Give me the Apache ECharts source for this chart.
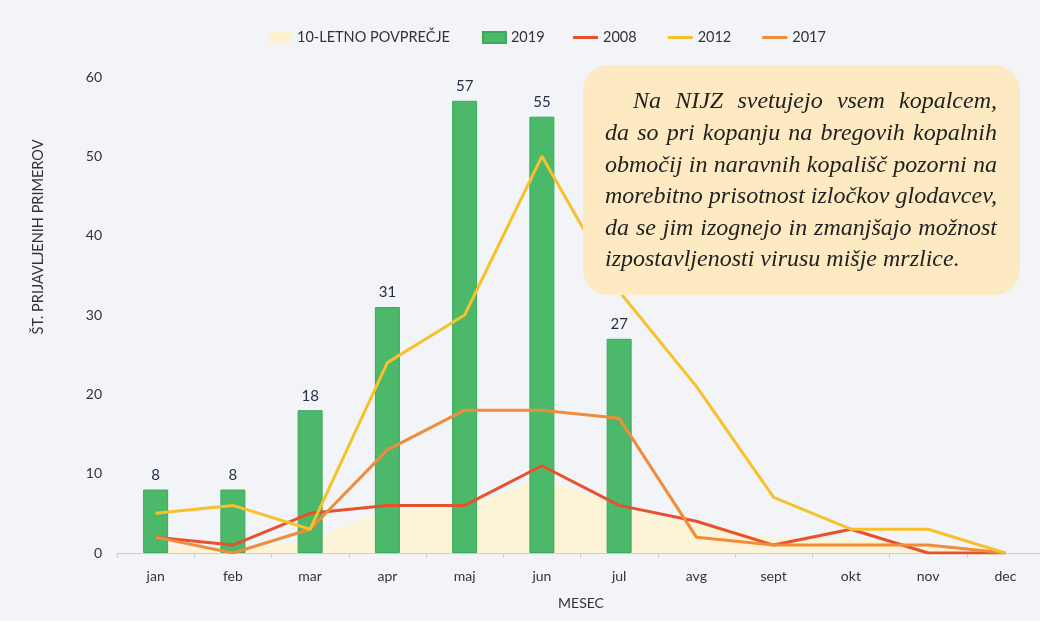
<!DOCTYPE html>
<html><head><meta charset="utf-8">
<script src="https://cdn.jsdelivr.net/npm/echarts@6/dist/echarts.min.js"></script>
<style>html,body{margin:0;padding:0;background:#f2f4f7;}#c{width:1040px;height:621px;}</style>
</head><body><div id="c"></div>
<script>
const months = ['jan','feb','mar','apr','maj','jun','jul','avg','sept','okt','nov','dec'];
const avg10 = [1, 0.5, 1.5, 5.5, 5.7, 9.5, 6, 3.5, 2, 1.8, 1.2, 0];
const y2019 = [8, 8, 18, 31, 57, 55, 27, null, null, null, null, null];
const y2008 = [2, 1, 5, 6, 6, 11, 6, 4, 1, 3, 0, 0];
const y2012 = [5, 6, 3, 24, 30, 50, 33, 21, 7, 3, 3, 0];
const y2017 = [2, 0, 3, 13, 18, 18, 17, 2, 1, 1, 1, 0];
const yMin = 0, yMax = 60, yStep = 10;
const legendNames = ['10-LETNO POVPREČJE', '2019', '2008', '2012', '2017'];
const yTitle = 'ŠT. PRIJAVLJENIH PRIMEROV';
const xTitle = 'MESEC';
const noteLines = [
  'Na NIJZ svetujejo vsem kopalcem,',
  'da so pri kopanju na bregovih kopalnih',
  'območij in naravnih kopališč pozorni na',
  'morebitno prisotnost izločkov glodavcev,',
  'da se jim izognejo in zmanjšajo možnost',
  'izpostavljenosti virusu mišje mrzlice.'
];

const sans = 'Lato';
const noteFamily = 'Liberation Serif';
const noteSize = 24;
const ctx = document.createElement('canvas').getContext('2d');
ctx.font = 'italic ' + noteSize + 'px "' + noteFamily + '"';
const noteEls = [];
noteLines.forEach((line, i) => {
  const words = line.split(' ');
  const x0 = i === 0 ? 633 : 605, x1 = 997;
  const widths = words.map(w => ctx.measureText(w).width);
  const total = widths.reduce((a, b) => a + b, 0);
  const justify = i < noteLines.length - 1;
  const gap = justify ? (x1 - x0 - total) / (words.length - 1) : ctx.measureText(' ').width;
  let x = x0;
  words.forEach((w, j) => {
    noteEls.push({
      type: 'text', x: x, y: 102 + i * 31.6, z: 101,
      style: { text: w, fontStyle: 'italic', fontSize: noteSize, fontFamily: noteFamily, fill: '#222', verticalAlign: 'middle', align: 'left' }
    });
    x += widths[j] + gap;
  });
});

const chart = echarts.init(document.getElementById('c'));
const lineSeries = (name, data, color) => ({
  name, type: 'line', data, symbol: 'none', smooth: false,
  lineStyle: { color, width: 3 }, itemStyle: { color }, z: 4
});
chart.setOption({
  backgroundColor: '#f2f4f7',
  animation: false,
  grid: { left: 117, top: 77, width: 927, bottom: 68, outerBoundsMode: 'none', containLabel: false },
  legend: [
    { left: 269, top: 30, padding: 0, itemWidth: 23, itemHeight: 11, itemGap: 32, icon: 'rect',
      data: [legendNames[0], legendNames[1]],
      textStyle: { fontFamily: sans, fontSize: 14.5, color: '#333' } },
    { left: 573, top: 30, padding: 0, itemWidth: 25, itemHeight: 3, itemGap: 31, icon: 'rect',
      data: [legendNames[2], legendNames[3], legendNames[4]],
      textStyle: { fontFamily: sans, fontSize: 14.5, color: '#333' } }
  ],
  xAxis: {
    type: 'category', data: months,
    axisLine: { lineStyle: { color: '#c6d0dc', width: 1 } },
    axisTick: { show: true, length: 5, lineStyle: { color: '#c6d0dc' } },
    axisLabel: { fontFamily: sans, fontSize: 14, color: '#333', margin: 16 }
  },
  yAxis: {
    type: 'value', min: yMin, max: yMax, interval: yStep,
    axisLine: { show: false }, axisTick: { show: false }, splitLine: { show: false },
    axisLabel: { fontFamily: sans, fontSize: 14, color: '#333', margin: 15 }
  },
  series: [
    { name: legendNames[0], type: 'line', data: avg10, symbol: 'none',
      lineStyle: { width: 0, color: '#fdf1d2' }, itemStyle: { color: '#fdf1d2' },
      areaStyle: { color: '#fdf3d6', opacity: 1 }, z: 1 },
    { name: legendNames[1], type: 'bar', data: y2019, barWidth: 25,
      itemStyle: { color: '#4bb86a', borderColor: '#3aa95b', borderWidth: 1 },
      label: { show: true, position: 'top', distance: 7, fontFamily: sans, fontSize: 15, color: '#2b2b45' }, z: 2 },
    lineSeries(legendNames[2], y2008, '#e8502e'),
    lineSeries(legendNames[4], y2017, '#f08c3a'),
    lineSeries(legendNames[3], y2012, '#f7c12c')
  ],
  graphic: [
    { type: 'text', x: 38, y: 237, rotation: Math.PI / 2, z: 10,
      style: { text: yTitle, fontFamily: sans, fontSize: 14.5, fill: '#333', align: 'center', verticalAlign: 'middle' } },
    { type: 'text', x: 581, y: 603, z: 10,
      style: { text: xTitle, fontFamily: sans, fontSize: 14, fill: '#333', align: 'center', verticalAlign: 'middle' } },
    { type: 'rect', z: 100, shape: { x: 583, y: 65, width: 437, height: 230, r: 26 },
      style: { fill: '#fde9c2' } }
  ].concat(noteEls)
});
</script></body></html>
